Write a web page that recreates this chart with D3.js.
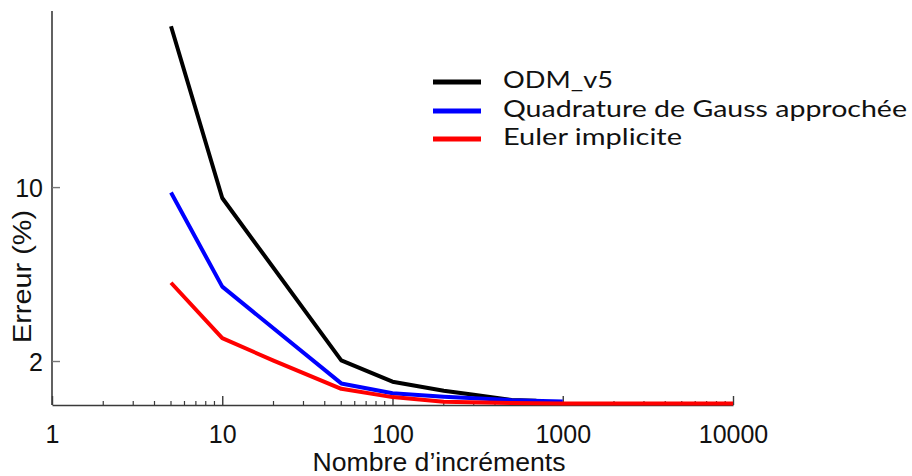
<!DOCTYPE html>
<html>
<head>
<meta charset="utf-8">
<script src="https://cdn.jsdelivr.net/npm/d3@7"></script>
<style>
  html, body { margin: 0; padding: 0; background: #fff; }
  svg { display: block; }
</style>
</head>
<body>
<svg id="chart" width="912" height="476"></svg>
<script>
// ---------- data ----------
const seriesNames = ["ODM_v5", "Quadrature de Gauss approchée", "Euler implicite"];
const seriesColors = ["#000000", "#0000ff", "#ff0000"];

const odmX   = [5, 10, 50, 100, 200, 300, 500, 700];
const odmY   = [17.4, 9.5, 2.03, 1.05, 0.63, 0.45, 0.21, 0.17];

const gaussX = [5, 10, 50, 100, 200, 500, 1000];
const gaussY = [9.75, 5.42, 0.97, 0.52, 0.36, 0.2, 0.14];

const eulerX = [5, 10, 20, 50, 100, 200, 500, 1000, 10000];
const eulerY = [5.6, 3.05, 2.02, 0.72, 0.34, 0.13, 0.07, 0.05, 0.05];

const xTickValues = [1, 10, 100, 1000, 10000];
const xTickLabels = ["1", "10", "100", "1000", "10000"];
const yTickValues = [2, 10];
const yTickLabels = ["2", "10"];

const xTitle = "Nombre d\u2019incréments";
const yTitle = "Erreur (%)";

// ---------- layout ----------
const svg = d3.select("#chart");
const x = d3.scaleLog().domain([1, 10000]).range([52, 733]);
const y = d3.scaleLinear().domain([0, 18.1]).range([404.5, 11]);
const axisColor = "#3a3a3a";
const axisY0 = 405;

// minor ticks on x
const minorTicks = [];
for (let d = 1; d < 10000; d *= 10) {
  for (let k = 2; k <= 9; k++) minorTicks.push(d * k);
}
svg.append("g")
  .selectAll("line")
  .data(minorTicks)
  .join("line")
  .attr("x1", d => x(d)).attr("x2", d => x(d))
  .attr("y1", axisY0).attr("y2", axisY0 - 4)
  .attr("stroke", axisColor).attr("stroke-width", 1.2);

// x axis with upward major ticks
const xAxis = d3.axisBottom(x)
  .tickValues(xTickValues)
  .tickSize(-9)
  .tickSizeOuter(0)
  .tickFormat((d, i) => xTickLabels[i]);
const gx = svg.append("g").attr("transform", `translate(0,${axisY0})`).call(xAxis);
gx.select(".domain").attr("stroke", axisColor).attr("stroke-width", 1.6);
gx.selectAll(".tick line").attr("stroke", axisColor).attr("stroke-width", 1.4);
gx.selectAll(".tick text")
  .attr("y", 38).attr("dy", null)
  .attr("fill", "#111")
  .style("font-family", "Liberation Sans, Arial, sans-serif")
  .style("font-size", "25px");

// y axis
svg.append("line")
  .attr("x1", 52).attr("x2", 52).attr("y1", 11).attr("y2", axisY0)
  .attr("stroke", axisColor).attr("stroke-width", 1.6);
const yAxis = d3.axisLeft(y)
  .tickValues(yTickValues)
  .tickSize(-8)
  .tickSizeOuter(0)
  .tickFormat((d, i) => yTickLabels[i]);
const gy = svg.append("g").attr("transform", "translate(52,0)").call(yAxis);
gy.select(".domain").remove();
gy.selectAll(".tick line").attr("stroke", "#777").attr("stroke-width", 1.4);
gy.selectAll(".tick text")
  .attr("x", -9).attr("dy", "0.36em")
  .attr("fill", "#111")
  .style("font-family", "Liberation Sans, Arial, sans-serif")
  .style("font-size", "25px");

// titles
svg.append("text")
  .attr("x", 439).attr("y", 471)
  .attr("text-anchor", "middle")
  .attr("fill", "#111")
  .attr("textLength", 253).attr("lengthAdjust", "spacingAndGlyphs")
  .style("font-family", "Liberation Sans, Arial, sans-serif")
  .style("font-size", "25px")
  .text(xTitle);

svg.append("text")
  .attr("transform", "translate(31,276.5) rotate(-90)")
  .attr("text-anchor", "middle")
  .attr("fill", "#111")
  .attr("textLength", 133).attr("lengthAdjust", "spacingAndGlyphs")
  .style("font-family", "Liberation Sans, Arial, sans-serif")
  .style("font-size", "26px")
  .text(yTitle);

// lines
const series = [
  { xs: odmX, ys: odmY },
  { xs: gaussX, ys: gaussY },
  { xs: eulerX, ys: eulerY }
];
const line = d3.line().x(d => x(d[0])).y(d => y(d[1]));
series.forEach((s, i) => {
  const pts = s.xs.map((v, j) => [v, s.ys[j]]);
  svg.append("path")
    .datum(pts)
    .attr("d", line)
    .attr("fill", "none")
    .attr("stroke", seriesColors[i])
    .attr("stroke-width", 4)
    .attr("stroke-linejoin", "round")
    .attr("stroke-linecap", "butt");
});

// legend
const legendY = [82, 111, 139];
const legendLen = [110, 404, 179];
const lg = svg.append("g");
seriesNames.forEach((name, i) => {
  lg.append("line")
    .attr("x1", 433).attr("x2", 481)
    .attr("y1", legendY[i]).attr("y2", legendY[i])
    .attr("stroke", seriesColors[i]).attr("stroke-width", 5);
  lg.append("text")
    .attr("x", 503).attr("y", legendY[i] + 6)
    .attr("fill", "#111")
    .attr("textLength", legendLen[i]).attr("lengthAdjust", "spacingAndGlyphs")
    .style("font-family", "Lato, 'Open Sans', sans-serif")
    .style("font-size", "23px")
    .text(name);
});
</script>
</body>
</html>
